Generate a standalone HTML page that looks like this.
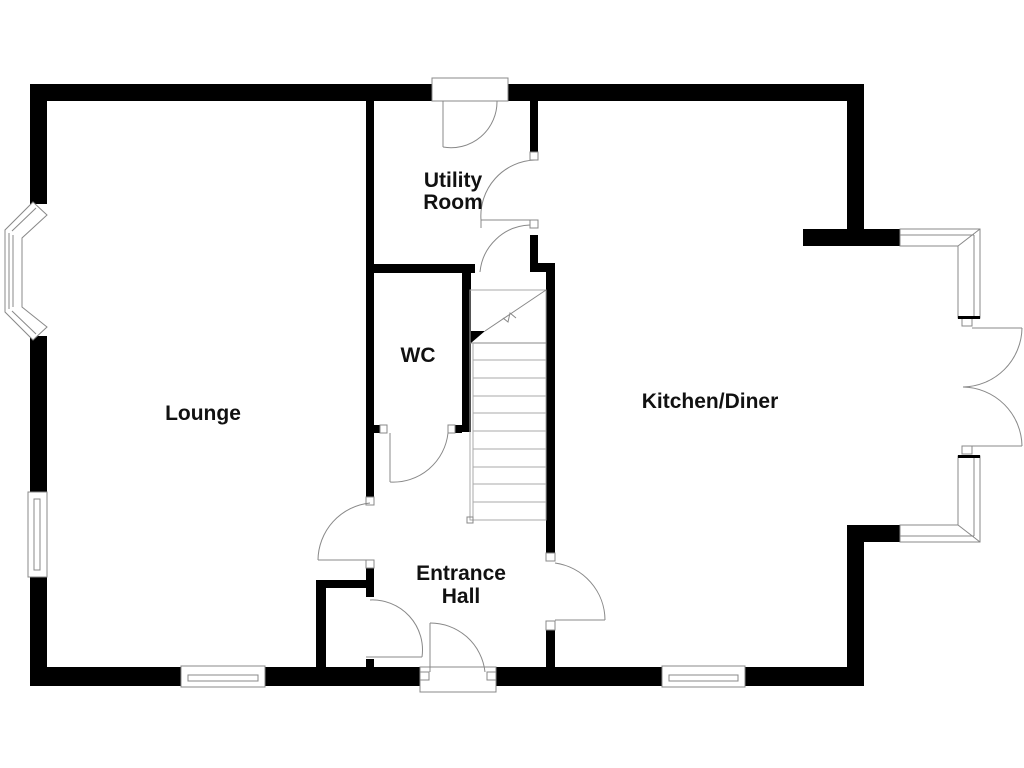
<!DOCTYPE html>
<html><head><meta charset="utf-8"><style>
html,body{margin:0;padding:0;background:#fff;}
svg{display:block;}
text{font-family:"Liberation Sans",sans-serif;font-weight:bold;font-size:21px;fill:#111;}
</style></head><body>
<svg width="1024" height="768" viewBox="0 0 1024 768" xmlns="http://www.w3.org/2000/svg">
<g fill="#000">
<rect x="30" y="84" width="402" height="17"/>
<rect x="508" y="84" width="356" height="17"/>
<rect x="30" y="84" width="17" height="120"/>
<rect x="30" y="336" width="17" height="156"/>
<rect x="30" y="577" width="17" height="109"/>
<rect x="30" y="667" width="151" height="19"/>
<rect x="265" y="667" width="155" height="19"/>
<rect x="496" y="667" width="166" height="19"/>
<rect x="745" y="667" width="119" height="19"/>
<rect x="847" y="84" width="17" height="162"/>
<rect x="803" y="229" width="97" height="17"/>
<rect x="847" y="525" width="17" height="161"/>
<rect x="847" y="525" width="53" height="17"/>
<rect x="366" y="101" width="8" height="396"/>
<rect x="366" y="560" width="8" height="37"/>
<rect x="366" y="659" width="8" height="8"/>
<rect x="374" y="425" width="6" height="8"/>
<rect x="316" y="580" width="10" height="87"/>
<rect x="316" y="580" width="56" height="8"/>
<rect x="372" y="264" width="103" height="9"/>
<rect x="462" y="264" width="9" height="168"/>
<rect x="455" y="425" width="7" height="8"/>
<rect x="530" y="101" width="8" height="57"/>
<rect x="530" y="235" width="8" height="33"/>
<rect x="530" y="263" width="25" height="9"/>
<rect x="546" y="263" width="9" height="290"/>
<rect x="546" y="630" width="9" height="37"/>
<polygon points="471,331 471,343 485,331"/>
</g>
<g fill="none" stroke="#888" stroke-width="1">
<rect x="432" y="78" width="76" height="23" fill="#fff"/>
<line x1="443" y1="101" x2="443" y2="147"/>
<path d="M443,147 A46,46 0 0 0 497,101"/>
<rect x="530" y="152" width="8" height="8" fill="#fff"/>
<path d="M481,220 A56,56 0 0 1 535,160"/>
<line x1="481" y1="220" x2="481" y2="228"/><line x1="481" y1="220" x2="530" y2="220"/>
<rect x="530" y="220" width="8" height="8" fill="#fff"/>
<path d="M480,272 A52,52 0 0 1 530,225"/>
<rect x="470" y="290" width="76" height="230" stroke="#aaa"/>
<polyline points="485,331 546,290"/>
<polyline points="503,318 508,322 510,313 516,318"/>
<line x1="470" y1="343" x2="546" y2="343"/>
<g stroke="#aaa">
<line x1="473" y1="360" x2="546" y2="360"/><line x1="473" y1="378" x2="546" y2="378"/>
<line x1="473" y1="396" x2="546" y2="396"/><line x1="473" y1="413" x2="546" y2="413"/>
<line x1="473" y1="431" x2="546" y2="431"/><line x1="473" y1="449" x2="546" y2="449"/>
<line x1="473" y1="467" x2="546" y2="467"/><line x1="473" y1="484" x2="546" y2="484"/>
<line x1="473" y1="502" x2="546" y2="502"/>
<line x1="473" y1="343" x2="473" y2="520"/>
</g>
<rect x="467" y="517" width="6" height="6"/>
<rect x="380" y="425" width="7" height="8" fill="#fff"/>
<rect x="448" y="425" width="7" height="8" fill="#fff"/>
<line x1="390" y1="433" x2="390" y2="482"/>
<path d="M390,482 A55,55 0 0 0 448,433"/>
<rect x="366" y="497" width="8" height="8" fill="#fff"/>
<rect x="366" y="560" width="8" height="8" fill="#fff"/>
<path d="M370,503 A58,58 0 0 0 318,560"/><line x1="318" y1="560" x2="366" y2="560"/>
<path d="M370,600 A50,50 0 0 1 422,657"/><line x1="366" y1="657" x2="422" y2="657"/>
<rect x="420" y="667" width="76" height="25" fill="#fff"/>
<rect x="420" y="672" width="9" height="8"/><rect x="487" y="672" width="9" height="8"/>
<line x1="430" y1="623" x2="430" y2="672"/>
<path d="M430,623 A55,55 0 0 1 485,672"/>
<rect x="546" y="553" width="9" height="8" fill="#fff"/>
<rect x="546" y="621" width="9" height="9" fill="#fff"/>
<path d="M555,563 A58,58 0 0 1 605,620"/><line x1="555" y1="620" x2="605" y2="620"/>
<rect x="181" y="666" width="84" height="21" fill="#fff"/>
<rect x="188" y="675" width="70" height="6"/>
<rect x="662" y="666" width="83" height="21" fill="#fff"/>
<rect x="669" y="675" width="69" height="6"/>
<rect x="28" y="492" width="19" height="85" fill="#fff"/>
<rect x="34" y="499" width="6" height="71"/>
<polygon points="33,202 47,215 22,238 22,307 47,327 33,340 5,312 5,230" fill="#fff"/>
<polyline points="9,233 9,309"/><polyline points="13,235 13,307"/>
<polyline points="12,231 36,208"/><polyline points="12,311 36,334"/>
<polygon points="900,229 980,229 980,318 958,318 958,246 900,246" fill="#fff"/>
<line x1="900" y1="235" x2="974" y2="235"/><line x1="974" y1="235" x2="974" y2="318"/>
<line x1="958" y1="246" x2="980" y2="229"/>
<rect x="962" y="318" width="10" height="8"/>
<polygon points="900,542 980,542 980,456 958,456 958,525 900,525" fill="#fff"/>
<line x1="900" y1="536" x2="974" y2="536"/><line x1="974" y1="536" x2="974" y2="456"/>
<line x1="958" y1="525" x2="980" y2="542"/>
<rect x="962" y="446" width="10" height="8"/>
<line x1="972" y1="328" x2="1022" y2="328"/><line x1="972" y1="446" x2="1022" y2="446"/>
<path d="M1022,328 A60,60 0 0 1 963,387"/><path d="M1022,446 A60,60 0 0 0 963,387"/>
</g>
<g fill="#000">
<rect x="958" y="316" width="22" height="3"/>
<rect x="958" y="455" width="22" height="3"/>
</g>
<text x="203" y="420" text-anchor="middle">Lounge</text>
<text x="453" y="187" text-anchor="middle">Utility</text>
<text x="453" y="209" text-anchor="middle">Room</text>
<text x="418" y="362" text-anchor="middle">WC</text>
<text x="710" y="408" text-anchor="middle">Kitchen/Diner</text>
<text x="461" y="580" text-anchor="middle">Entrance</text>
<text x="461" y="603" text-anchor="middle">Hall</text>
</svg>
</body></html>
